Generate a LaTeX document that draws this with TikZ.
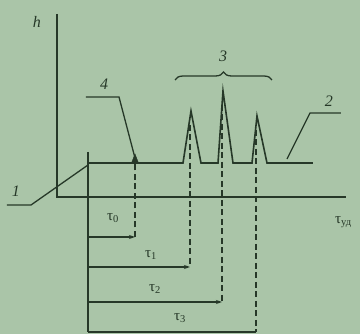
\documentclass[tikz,border=0pt]{standalone}
\usepackage{fontspec}
\setmainfont{Liberation Serif}
\usetikzlibrary{arrows.meta,decorations.pathreplacing}
\definecolor{bg}{RGB}{170,197,168}
\definecolor{ink}{RGB}{38,56,40}
\tikzset{
  line/.style={draw=ink,line width=1.6pt},
  thinln/.style={draw=ink,line width=1.3pt},
  dashln/.style={draw=ink,line width=1.4pt,dash pattern=on 6pt off 3.5pt},
  lbl/.style={text=ink,font=\itshape\fontsize{16}{16}\selectfont,inner sep=0pt},
  tl/.style={text=ink,font=\fontsize{15}{15}\selectfont,inner sep=0pt},
  tarrow/.style={line,-{Stealth[length=6pt,width=4pt]}}
}
\begin{document}
\begin{tikzpicture}[x=1pt,y=-1pt]
\fill[bg] (0,0) rectangle (360,334);
\useasboundingbox (0,0) rectangle (360,334);
% axes
\coordinate (otop) at (57,14);
\coordinate (o) at (57,197);
\coordinate (xend) at (346,197);
\draw[line] (otop) -- (o) -- (xend);
\node[lbl] (h) at (37,22) {h};
\node[tl,anchor=west] (tud) at (335,222) {τ\textsubscript{уд}};
% start line
\coordinate (s0) at (88,152);
\coordinate (s1) at (88,332);
\draw[line] (s0) -- (s1);
% signal
\draw[line,line join=miter] (88,163) -- (183,163) -- (191,111) -- (201,163) -- (218,163) -- (223,91) -- (233,163) -- (252,163) -- (257,116) -- (267,163) -- (313,163);
% dashed markers
\coordinate (d0t) at (135,158);
\coordinate (d0b) at (135,237);
\coordinate (d1t) at (190,125);
\coordinate (d1b) at (190,267);
\coordinate (d2t) at (222,105);
\coordinate (d2b) at (222,302);
\coordinate (d3t) at (256,130);
\coordinate (d3b) at (256,332);
\draw[dashln] (d0b) -- (d0t);
\draw[ink,fill=ink] (131.5,163) -- (135,154) -- (138.5,163) -- cycle;
\draw[dashln] (d1t) -- (d1b);
\draw[dashln] (d2t) -- (d2b);
\draw[dashln] (d3t) -- (d3b);
% time arrows
\coordinate (a0) at (88,237);
\coordinate (a1) at (88,267);
\coordinate (a2) at (88,302);
\coordinate (a3) at (88,332);
\draw[tarrow] (a0) -- (d0b);
\draw[tarrow] (a1) -- (d1b);
\draw[tarrow] (a2) -- (d2b);
\draw[line] (a3) -- (d3b);
\node[tl] (t0) at (113,218) {τ\textsubscript{0}};
\node[tl] (t1) at (151,255) {τ\textsubscript{1}};
\node[tl] (t2) at (155,289) {τ\textsubscript{2}};
\node[tl] (t3) at (180,318) {τ\textsubscript{3}};
% leaders
\node[lbl] (n1) at (16,191) {1};
\draw[thinln] (7,205) -- (31,205) -- (88,165);
\node[lbl] (n4) at (104,84) {4};
\draw[thinln] (86,97) -- (119,97) -- (d0t);
\node[lbl] (n2) at (329,101) {2};
\draw[thinln] (341,113) -- (310,113) -- (287,159);
\node[lbl] (n3) at (223,56) {3};
\draw[thinln,decorate,decoration={brace,amplitude=8pt}] (175,80) -- (272,80);
\end{tikzpicture}
\end{document}
